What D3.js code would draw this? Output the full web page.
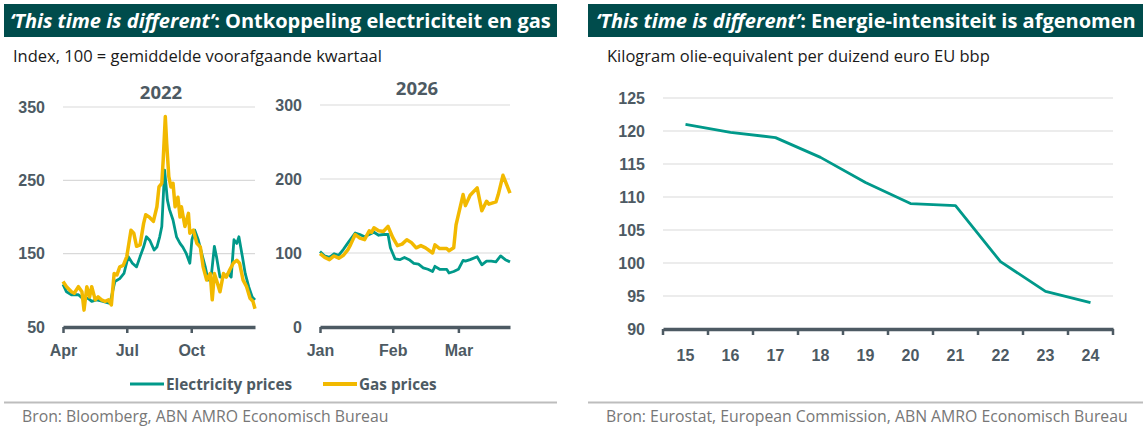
<!DOCTYPE html>
<html>
<head>
  <meta charset="utf-8">
  <title>This time is different</title>
  <script src="https://cdn.jsdelivr.net/npm/d3@7"></script>
  <style>
    body { margin: 0; padding: 0; background: #fff; }
    svg { display: block; font-family: "Open Sans", sans-serif; }
    .tick text { fill: #4d5a63; font-weight: 700; font-size: 16px; }
  </style>
</head>
<body>
  <svg id="chart" width="1148" height="431"></svg>

  <script>
    // data: left panel, 2022 (index)
    var elec2022 = [
      ["2022-04-01", 108], ["2022-04-06", 98], ["2022-04-13", 94], ["2022-04-23", 94], ["2022-04-29", 89],
      ["2022-05-07", 89], ["2022-05-12", 85], ["2022-05-19", 87], ["2022-05-28", 85], ["2022-06-07", 82],
      ["2022-06-14", 112], ["2022-06-21", 116], ["2022-06-27", 123], ["2022-07-03", 146], ["2022-07-09", 137],
      ["2022-07-15", 132], ["2022-07-20", 146], ["2022-07-25", 159], ["2022-07-29", 173], ["2022-08-03", 168],
      ["2022-08-09", 155], ["2022-08-13", 159], ["2022-08-17", 173], ["2022-08-20", 187], ["2022-08-24", 264],
      ["2022-08-28", 223], ["2022-08-31", 210], ["2022-09-05", 196], ["2022-09-10", 173], ["2022-09-15", 164],
      ["2022-09-19", 159], ["2022-09-24", 150], ["2022-09-29", 137], ["2022-10-02", 169], ["2022-10-06", 182],
      ["2022-10-11", 169], ["2022-10-16", 150], ["2022-10-21", 132], ["2022-10-25", 114], ["2022-10-30", 123],
      ["2022-11-03", 160], ["2022-11-06", 146], ["2022-11-11", 118], ["2022-11-16", 118], ["2022-11-23", 123],
      ["2022-11-27", 118], ["2022-12-01", 169], ["2022-12-05", 164], ["2022-12-08", 173], ["2022-12-13", 146],
      ["2022-12-17", 123], ["2022-12-22", 105], ["2022-12-27", 91], ["2022-12-31", 87]
    ];
    var gas2022 = [
      ["2022-04-01", 112], ["2022-04-06", 105], ["2022-04-13", 98], ["2022-04-17", 96], ["2022-04-23", 105],
      ["2022-04-28", 98], ["2022-05-01", 73], ["2022-05-05", 105], ["2022-05-09", 91], ["2022-05-12", 105],
      ["2022-05-17", 87], ["2022-05-21", 91], ["2022-05-26", 87], ["2022-05-31", 85], ["2022-06-05", 87],
      ["2022-06-09", 80], ["2022-06-13", 123], ["2022-06-17", 121], ["2022-06-21", 132], ["2022-06-26", 134],
      ["2022-07-01", 146], ["2022-07-07", 182], ["2022-07-11", 178], ["2022-07-15", 160], ["2022-07-20", 162],
      ["2022-07-25", 191], ["2022-07-28", 203], ["2022-08-02", 200], ["2022-08-08", 194], ["2022-08-13", 214],
      ["2022-08-16", 241], ["2022-08-20", 246], ["2022-08-22", 278], ["2022-08-25", 337], ["2022-08-27", 300],
      ["2022-08-30", 255], ["2022-09-02", 241], ["2022-09-05", 246], ["2022-09-08", 214], ["2022-09-12", 227],
      ["2022-09-15", 200], ["2022-09-17", 214], ["2022-09-22", 187], ["2022-09-27", 205], ["2022-09-29", 178],
      ["2022-10-04", 182], ["2022-10-09", 164], ["2022-10-14", 159], ["2022-10-18", 132], ["2022-10-23", 114],
      ["2022-10-28", 123], ["2022-10-31", 87], ["2022-11-03", 123], ["2022-11-06", 114], ["2022-11-11", 98],
      ["2022-11-16", 123], ["2022-11-20", 118], ["2022-11-25", 128], ["2022-11-30", 137], ["2022-12-05", 141],
      ["2022-12-09", 137], ["2022-12-14", 114], ["2022-12-19", 105], ["2022-12-24", 89], ["2022-12-28", 85],
      ["2022-12-31", 75]
    ];

    // data: left panel, 2026 (index)
    var elec2026 = [
      ["2026-01-01", 102], ["2026-01-03", 96], ["2026-01-05", 94], ["2026-01-07", 99], ["2026-01-09", 97],
      ["2026-01-11", 105], ["2026-01-13", 114], ["2026-01-16", 127], ["2026-01-18", 125], ["2026-01-20", 122],
      ["2026-01-22", 125], ["2026-01-24", 128], ["2026-01-26", 124], ["2026-01-28", 125], ["2026-01-30", 125],
      ["2026-01-31", 107], ["2026-02-02", 92], ["2026-02-04", 91], ["2026-02-06", 94], ["2026-02-08", 91],
      ["2026-02-10", 86], ["2026-02-12", 85], ["2026-02-14", 80], ["2026-02-16", 78], ["2026-02-18", 75],
      ["2026-02-19", 82], ["2026-02-21", 78], ["2026-02-24", 78], ["2026-02-25", 73], ["2026-02-27", 75],
      ["2026-03-01", 78], ["2026-03-03", 90], ["2026-03-04", 89], ["2026-03-06", 91], ["2026-03-09", 95],
      ["2026-03-11", 84], ["2026-03-13", 89], ["2026-03-15", 89], ["2026-03-17", 88], ["2026-03-19", 96],
      ["2026-03-21", 91], ["2026-03-23", 88]
    ];
    var gas2026 = [
      ["2026-01-01", 99], ["2026-01-03", 94], ["2026-01-05", 91], ["2026-01-07", 96], ["2026-01-09", 93],
      ["2026-01-11", 97], ["2026-01-13", 105], ["2026-01-14", 111], ["2026-01-16", 125], ["2026-01-18", 120],
      ["2026-01-20", 118], ["2026-01-22", 130], ["2026-01-23", 128], ["2026-01-24", 134], ["2026-01-26", 130],
      ["2026-01-28", 129], ["2026-01-30", 136], ["2026-02-01", 121], ["2026-02-03", 110], ["2026-02-05", 112],
      ["2026-02-07", 118], ["2026-02-09", 114], ["2026-02-11", 107], ["2026-02-13", 110], ["2026-02-15", 107],
      ["2026-02-18", 100], ["2026-02-19", 111], ["2026-02-21", 106], ["2026-02-24", 106], ["2026-02-25", 103],
      ["2026-02-27", 107], ["2026-02-28", 138], ["2026-03-03", 179], ["2026-03-04", 164], ["2026-03-06", 178],
      ["2026-03-09", 188], ["2026-03-11", 157], ["2026-03-13", 170], ["2026-03-14", 166], ["2026-03-17", 169],
      ["2026-03-18", 179], ["2026-03-20", 205], ["2026-03-23", 181]
    ];

    // data: right panel
    var years = ["15", "16", "17", "18", "19", "20", "21", "22", "23", "24"];
    var intensity = [121, 119.8, 119, 116, 112.2, 109, 108.7, 100.2, 95.7, 94];

    var teal = "#00998a", yellow = "#f2b900", dark = "#004c4c", axisCol = "#4d5a63", gridCol = "#d9d9d9";

    var parse = d3.timeParse("%Y-%m-%d");
    var svg = d3.select("#chart");

    // header bars + subtitles + footers
    function header(x0, x1, dx, rest, sub, src) {
      var id = "clip" + x0;
      svg.append("clipPath").attr("id", id)
        .append("rect").attr("x", x0).attr("y", 4).attr("width", x1 - x0).attr("height", 33);
      svg.append("rect").attr("x", x0).attr("y", 4).attr("width", x1 - x0).attr("height", 33).attr("fill", dark);
      var t = svg.append("text").attr("x", x0 + 6 + dx).attr("y", 28).attr("clip-path", "url(#" + id + ")")
        .attr("fill", "#fff").attr("font-size", 20).attr("font-weight", 700);
      t.append("tspan").attr("font-style", "italic").text("\u2018This time is different\u2019");
      t.append("tspan").text(rest);
      svg.append("text").attr("x", x0 + 9 + dx * 5).attr("y", 62).attr("font-size", 16.5).attr("fill", "#1a1a1a").text(sub);
      svg.append("line").attr("x1", x0).attr("x2", x1).attr("y1", 402.5).attr("y2", 402.5)
        .attr("stroke", "#bdbdbd").attr("stroke-width", 2);
      svg.append("text").attr("x", x0 + 18).attr("y", 422).attr("font-size", 15.8).attr("fill", "#777").text(src);
    }
    header(4, 557, 0, ": Ontkoppeling electriciteit en gas", "Index, 100 = gemiddelde voorafgaande kwartaal",
      "Bron: Bloomberg, ABN AMRO Economisch Bureau");
    header(588, 1143, 2, ": Energie-intensiteit is afgenomen", "Kilogram olie-equivalent per duizend euro EU bbp",
      "Bron: Eurostat, European Commission, ABN AMRO Economisch Bureau");

    function styleAxis(g) {
      g.select(".domain").attr("stroke", axisCol).attr("stroke-width", 3.5);
      g.selectAll(".tick line").attr("stroke", axisCol).attr("stroke-width", 2.5);
    }

    // one small-multiple time panel
    function timePanel(cfg) {
      var x = d3.scaleTime().domain(cfg.dom.map(parse)).range([cfg.x0, cfg.x1]);
      var y = d3.scaleLinear().domain(cfg.yDom).range([327, cfg.yTop]);
      var g = svg.append("g");

      g.append("g").attr("transform", "translate(" + (cfg.x0 - 18) + ",0)")
        .call(d3.axisLeft(y).tickValues(cfg.yTicks).tickSize(0).tickPadding(0))
        .call(a => a.select(".domain").remove());

      g.selectAll(".grid").data(cfg.yTicks.slice(1)).join("line")
        .attr("x1", cfg.x0).attr("x2", cfg.x1)
        .attr("y1", d => y(d)).attr("y2", d => y(d))
        .attr("stroke", gridCol).attr("stroke-width", 1.2);

      g.append("text").attr("x", (cfg.x0 + cfg.x1) / 2 + 2).attr("y", cfg.titleY)
        .attr("text-anchor", "middle").attr("font-size", 18.5).attr("font-weight", 700)
        .attr("fill", axisCol).text(cfg.title);

      var line = d3.line().x(d => x(parse(d[0]))).y(d => y(d[1]));
      g.append("path").datum(cfg.elec).attr("d", line).attr("fill", "none")
        .attr("stroke", teal).attr("stroke-width", 2.8).attr("stroke-linejoin", "round");
      g.append("path").datum(cfg.gas).attr("d", line).attr("fill", "none")
        .attr("stroke", yellow).attr("stroke-width", 3.5).attr("stroke-linejoin", "round");

      g.append("g").attr("transform", "translate(0,327)")
        .call(d3.axisBottom(x).tickValues(cfg.xTicks.map(parse)).tickFormat(d3.timeFormat("%b"))
          .tickSize(6).tickSizeOuter(0).tickPadding(12))
        .call(styleAxis);
    }

    timePanel({
      dom: ["2022-04-01", "2022-12-31"], x0: 63, x1: 255, yDom: [50, 350], yTop: 107,
      yTicks: [50, 150, 250, 350], xTicks: ["2022-04-01", "2022-07-01", "2022-10-01"],
      title: "2022", titleY: 99, elec: elec2022, gas: gas2022
    });
    timePanel({
      dom: ["2026-01-01", "2026-03-23"], x0: 320, x1: 510, yDom: [0, 300], yTop: 105,
      yTicks: [0, 100, 200, 300], xTicks: ["2026-01-01", "2026-02-01", "2026-03-01"],
      title: "2026", titleY: 95, elec: elec2026, gas: gas2026
    });

    // legend
    var legend = svg.append("g").attr("transform", "translate(0,384)");
    [["Electricity prices", teal, 130, 2.8], ["Gas prices", yellow, 323, 4]].forEach(function (d) {
      legend.append("line").attr("x1", d[2]).attr("x2", d[2] + 34).attr("y1", 0).attr("y2", 0)
        .attr("stroke", d[1]).attr("stroke-width", d[3]);
      legend.append("text").attr("x", d[2] + 36).attr("y", 5.5).attr("font-size", 15.3).attr("font-weight", 700)
        .attr("fill", axisCol).text(d[0]);
    });

    // right chart
    var xb = d3.scaleBand().domain(years).range([663, 1113]).padding(0);
    var yr = d3.scaleLinear().domain([90, 125]).range([329, 98]);
    var r = svg.append("g");

    r.append("g").attr("transform", "translate(645,0)")
      .call(d3.axisLeft(yr).tickValues(d3.range(90, 126, 5)).tickSize(0).tickPadding(0))
      .call(a => a.select(".domain").remove());

    r.selectAll(".grid").data(d3.range(95, 126, 5)).join("line")
      .attr("x1", 663).attr("x2", 1113)
      .attr("y1", d => yr(d)).attr("y2", d => yr(d))
      .attr("stroke", gridCol).attr("stroke-width", 1.2);

    r.append("path").datum(intensity)
      .attr("d", d3.line().x((d, i) => xb(years[i]) + xb.bandwidth() / 2).y(d => yr(d)))
      .attr("fill", "none").attr("stroke", teal).attr("stroke-width", 2.8).attr("stroke-linejoin", "round");

    r.append("g").attr("transform", "translate(0,329)")
      .call(d3.axisBottom(xb).tickSize(0).tickSizeOuter(0).tickPadding(21))
      .call(styleAxis);

    // tick marks sit on the band edges
    r.selectAll(".edge").data(years.map(d => xb(d)).concat([1113])).join("line")
      .attr("x1", d => d).attr("x2", d => d).attr("y1", 329).attr("y2", 335)
      .attr("stroke", axisCol).attr("stroke-width", 2.5);
  </script>
</body>
</html>
